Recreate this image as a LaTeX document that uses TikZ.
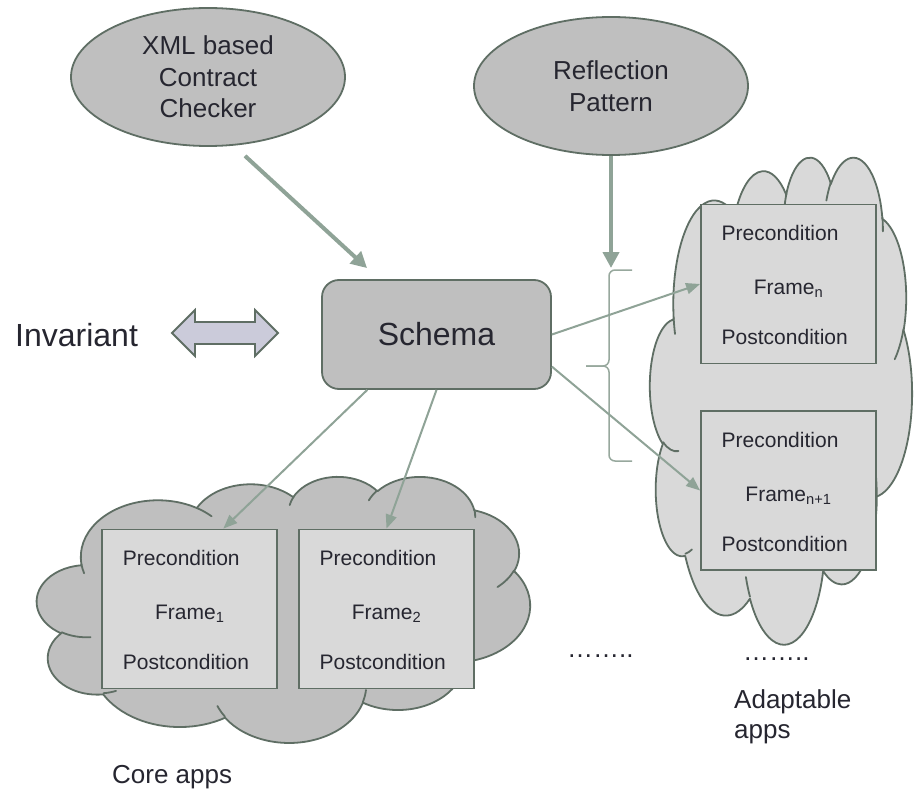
\documentclass[tikz,border=0pt]{standalone}
\usepackage{fontspec}
\setmainfont{Liberation Sans}
\usetikzlibrary{arrows.meta,calc,shapes.geometric}

\definecolor{shapeline}{HTML}{5F6E64}
\definecolor{arrowgreen}{HTML}{8FA397}
\definecolor{bracegreen}{HTML}{97A89D}
\definecolor{darkfill}{HTML}{BFBFBF}
\definecolor{lightfill}{HTML}{D9D9D9}
\definecolor{lavender}{HTML}{CBCBDA}
\definecolor{ink}{HTML}{262630}

% elliptical arc given by radii, start angle and sweep measured as visual angles
\newcommand\carc[4]{arc[x radius=#1pt, y radius=#2pt,
  start angle={atan2(#1*sin(#3),#2*cos(#3))},
  delta angle={mod(atan2(#1*sin(#3+#4),#2*cos(#3+#4))-atan2(#1*sin(#3),#2*cos(#3))+720,360)}]}

% cloud outline in a 432 x 432 frame, placed at (#1,#2) with size #3 x #4
\newcommand\cloudshape[5]{%
\begin{scope}[shift={(#1,#2)}, x=1pt, y=1pt, xscale=#3/432, yscale=-#4/432]
  \path[draw=shapeline, fill=#5, line width=1.8pt, line join=round]
    (39.00,143.70)
    \carc{67.53}{91.90}{-190.4875}{123.7805}
    \carc{53.33}{72.67}{-144.1024}{89.9452}
    \carc{43.65}{59.45}{-145.8079}{99.7230}
    \carc{48.57}{65.95}{-130.9861}{117.2417}
    \carc{53.33}{72.73}{-78.7089}{109.0269}
    \carc{67.75}{92.20}{-46.2673}{130.2690}
    \carc{57.85}{78.67}{0.6250}{114.0333}
    \carc{67.52}{92.15}{22.4516}{115.1726}
    \carc{77.20}{105.43}{66.2426}{75.7110}
    \carc{43.60}{59.18}{-274.9421}{146.7356}
    \carc{43.45}{59.45}{-246.8285}{152.5189}
    -- cycle;
  \draw[shapeline, line width=1.8pt, line cap=round]
    (46.93,261.77) \carc{43.45}{59.45}{86.7420}{26.4295}
    (69.28,348.99) \carc{43.60}{59.18}{73.6105}{11.4475}
    (164.78,390.90) \carc{67.52}{92.15}{137.6242}{14.0811}
    (288.27,347.51) \carc{67.52}{92.15}{6.4533}{15.9984}
    (341.29,229.54) \carc{57.85}{78.67}{-70.2924}{70.9174}
    (417.98,153.54) \carc{53.33}{72.73}{30.3180}{27.7515}
    (383.24,54.26) \carc{48.57}{65.95}{-13.7443}{14.8589}
    (290.78,39.52) \carc{48.57}{65.95}{-149.1815}{18.1954}
    (221.41,47.20) \carc{43.65}{59.45}{-163.4943}{17.6864}
    (140.00,51.92) \carc{67.53}{91.90}{-66.7070}{12.3194}
    (41.27,157.89) \carc{67.53}{91.90}{157.6544}{11.8582};
\end{scope}}

\tikzset{
  ovalbox/.style={ellipse, draw=shapeline, fill=darkfill, line width=1.8pt,
    minimum width=274pt, minimum height=138pt, inner sep=0pt, align=center,
    text=ink, font=\fontsize{26}{31.5}\selectfont},
  schemabox/.style={rectangle, rounded corners=17pt, draw=shapeline, fill=darkfill,
    line width=1.8pt, minimum width=229pt, minimum height=109pt, inner sep=0pt,
    text=ink, font=\fontsize{32}{38}\selectfont},
  framebox/.style={rectangle, draw=shapeline, fill=lightfill, line width=1.8pt,
    minimum width=175pt, minimum height=159pt, inner sep=0pt},
  boxtext/.style={inner sep=0pt, text=ink, font=\fontsize{21}{25}\selectfont},
  caption/.style={inner sep=0pt, text=ink, align=left, font=\fontsize{26}{30}\selectfont},
  feed/.style={draw=arrowgreen, line width=2pt, -{Triangle[length=14pt,width=11pt]}},
  bigfeed/.style={draw=arrowgreen, line width=4pt, -{Triangle[length=16pt,width=16pt]}},
}

% a frame box with its three lines of text
\newcommand\appframe[4]{%
  \node[framebox] (#1) at (#2,#3) {};
  \node[boxtext, anchor=base west] (#1pre) at ($(#1.center)+(-67,-43.5)$) {Precondition};
  \node[boxtext, anchor=base] (#1mid) at ($(#1.center)+(0,10.5)$) {Frame\textsubscript{#4}};
  \node[boxtext, anchor=base west] (#1post) at ($(#1.center)+(-67,60.5)$) {Postcondition};
}

\begin{document}
\begin{tikzpicture}[x=1pt, y=-1pt]
  \fill[white] (0,0) rectangle (915,789);
  \useasboundingbox (0,0) rectangle (915,789);

  % clouds of apps
  \cloudshape{650}{156}{262}{487}{lightfill}
  \cloudshape{37}{476}{493}{266}{darkfill}

  % frames
  \appframe{fn}{788.5}{284}{n}
  \appframe{fnn}{788.5}{490.5}{n+1}
  \appframe{fa}{189.75}{609}{1}
  \appframe{fb}{386.5}{609}{2}

  % top ovals and schema
  \node[ovalbox] (xml) at (208,77) {XML based\\Contract\\Checker};
  \node[ovalbox] (refl) at (611,86) {Reflection\\Pattern};
  \node[schemabox] (schema) at (436.5,334.5) {Schema};

  % invariant
  \node[inner sep=0pt, anchor=west, text=ink, font=\fontsize{32}{38}\selectfont]
    (inv) at (15,335) {Invariant};
  \draw[shapeline, fill=lavender, line width=1.8pt]
    (172,333) -- (195,310) -- (195,322) -- (255,322) -- (255,310) -- (278,333)
    -- (255,356) -- (255,344) -- (195,344) -- (195,356) -- cycle;

  % brace grouping the adaptable frames
  \draw[bracegreen, line width=1.5pt, rounded corners=6pt]
    (632,270) -- (609,270) -- (609,366) -- (586,366);
  \draw[bracegreen, line width=1.5pt, rounded corners=6pt]
    (586,366) -- (609,366) -- (609,461) -- (632,461);
  \coordinate (bracetop) at (611,268);

  % connectors
  \draw[bigfeed] ($(xml.south)+(37,9)$) -- ($(schema.north west)+(46,-11)$);
  \draw[bigfeed] (refl.south) -- (bracetop);
  \draw[feed] ($(schema.south west)!0.2!(schema.south east)$) -- ($(fa.north west)!0.69!(fa.north east)$);
  \draw[feed] (schema.south) -- (fb.north);
  \draw[feed] (schema.east) -- (fn.west);
  \draw[feed] ($(schema.north east)!0.79!(schema.south east)$) -- (fnn.west);

  % captions
  \node[caption, anchor=base west] (dotsa) at (567,657) {……..};
  \node[caption, anchor=base west] (dotsb) at (743,660) {……..};
  \node[caption, anchor=base west] (adapt) at (734,738) {Adaptable\\apps};
  \node[caption, anchor=base west] (core) at (112,783) {Core apps};
\end{tikzpicture}
\end{document}
